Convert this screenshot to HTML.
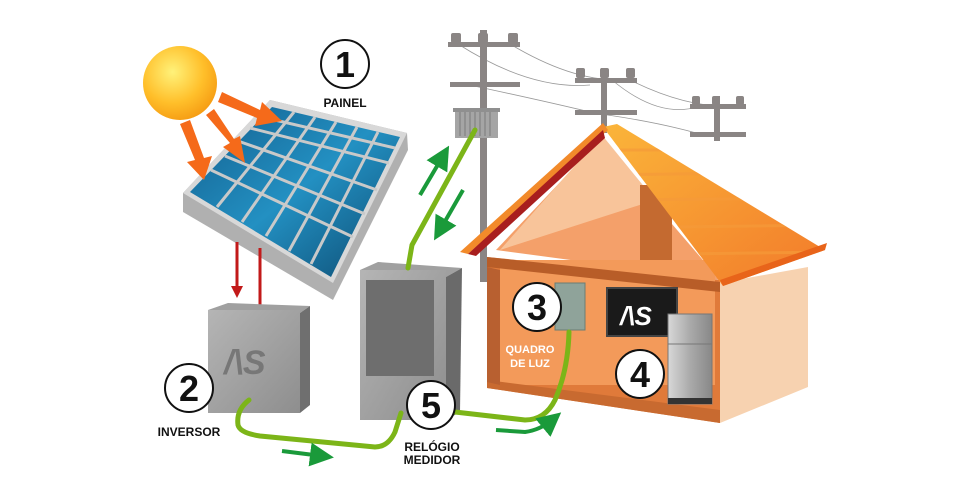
<!DOCTYPE html>
<html><head><meta charset="utf-8"><style>
html,body{margin:0;padding:0;background:#fff;}
svg{display:block;font-family:"Liberation Sans",Arial,sans-serif;}
</style></head><body>
<svg width="977" height="495" viewBox="0 0 977 495" xmlns="http://www.w3.org/2000/svg">
<defs>
<radialGradient id="sun" cx="0.4" cy="0.35" r="0.7"><stop offset="0" stop-color="#fff27a"/><stop offset="0.6" stop-color="#ffbf2a"/><stop offset="1" stop-color="#f59a12"/></radialGradient>
<linearGradient id="cell" x1="0" y1="0" x2="1" y2="1"><stop offset="0" stop-color="#135f8e"/><stop offset="0.5" stop-color="#2390c2"/><stop offset="1" stop-color="#0c4a70"/></linearGradient>
<linearGradient id="gray" x1="0" y1="0" x2="1" y2="1"><stop offset="0" stop-color="#b5b5b5"/><stop offset="1" stop-color="#8e8e8e"/></linearGradient>
<linearGradient id="roof" x1="0" y1="0" x2="1" y2="1"><stop offset="0" stop-color="#fbb53a"/><stop offset="1" stop-color="#f27a2a"/></linearGradient>
<linearGradient id="fr" x1="0" y1="0" x2="1" y2="0"><stop offset="0" stop-color="#d8d8d8"/><stop offset="0.5" stop-color="#aaa"/><stop offset="1" stop-color="#888"/></linearGradient>
<marker id="ga" markerWidth="6" markerHeight="6" refX="3" refY="3" orient="auto"><path d="M0,0 L6,3 L0,6z" fill="#1a9a3a"/></marker>
<clipPath id="rc"><polygon points="603,127 617,124 825,250 723,286"/></clipPath>
</defs>

<!-- wires -->
<g stroke="#999" stroke-width="0.8" fill="none">
<path d="M458,44 Q530,90 590,85"/><path d="M510,44 Q570,80 618,80"/><path d="M460,83 Q540,100 590,112"/>
<path d="M612,80 Q660,120 700,106"/><path d="M630,80 Q690,110 740,106"/><path d="M585,112 Q650,120 700,134"/>
</g>
<!-- poles -->
<g fill="#8a8584">
<rect x="480" y="30" width="7" height="252"/>
<rect x="448" y="42" width="72" height="5"/><rect x="450" y="82" width="70" height="5"/>
<rect x="451" y="33" width="10" height="10" rx="2"/><rect x="478" y="33" width="10" height="10" rx="2"/><rect x="508" y="33" width="10" height="10" rx="2"/>
<rect x="601" y="68" width="6" height="65"/>
<rect x="575" y="78" width="62" height="5"/><rect x="575" y="110" width="62" height="5"/>
<rect x="576" y="68" width="9" height="10" rx="2"/><rect x="600" y="68" width="9" height="10" rx="2"/><rect x="626" y="68" width="9" height="10" rx="2"/>
<rect x="714" y="96" width="6" height="45"/>
<rect x="690" y="104" width="56" height="5"/><rect x="690" y="132" width="56" height="5"/>
<rect x="692" y="96" width="8" height="9" rx="2"/><rect x="712" y="96" width="8" height="9" rx="2"/><rect x="736" y="96" width="8" height="9" rx="2"/>
</g>
<rect x="455" y="110" width="43" height="28" fill="#a5a5a5"/>
<g stroke="#7a7a7a" stroke-width="1"><path d="M460,112v24M465,112v24M470,112v24M475,112v24M480,112v24M485,112v24M490,112v24"/></g>
<rect x="453" y="108" width="47" height="4" fill="#8f8f8f"/>

<!-- sun -->
<circle cx="180" cy="83" r="37" fill="url(#sun)"/>
<!-- panel -->
<polygon points="183,193 270,100 407,133 408,150 333,300 183,212" fill="#b0b0b0"/>
<polygon points="183,193 270,100 407,133 333,283" fill="#d8d8d8"/>
<g>
<polygon points="190,192 272,107 400,137 331,277" fill="url(#cell)"/>
<g stroke="#c9c9c9" stroke-width="3">
<line x1="211" y1="170" x2="353" y2="237"/><line x1="225" y1="156" x2="365" y2="214"/><line x1="238" y1="141" x2="377" y2="190"/><line x1="250" y1="128" x2="389" y2="163"/><line x1="262" y1="117" x2="395" y2="148"/>
<line x1="294" y1="112" x2="217" y2="207"/><line x1="315" y1="117" x2="242" y2="222"/><line x1="336" y1="122" x2="266" y2="236"/><line x1="357" y1="127" x2="289" y2="251"/><line x1="378" y1="132" x2="311" y2="264"/>
</g>
</g>
<!-- sun rays -->
<g fill="#f56a1a">
<path d="M222,92 L260,110 L262,102 L282,121 L255,126 L257,118 L218,102z"/>
<path d="M206,115 L230,143 L223,147 L245,163 L240,136 L234,139 L214,109z"/>
<path d="M180,124 L195,160 L187,162 L204,180 L212,156 L204,158 L190,120z"/>
</g>
<!-- red lines -->
<g stroke="#c21a1a" stroke-width="3"><line x1="237" y1="242" x2="237" y2="288"/><line x1="260" y1="248" x2="260" y2="310"/></g>
<polygon points="231,286 243,286 237,298" fill="#c21a1a"/>

<!-- inverter -->
<polygon points="208,310 228,303 310,306 300,313" fill="#a0a0a0"/>
<polygon points="300,313 310,306 310,405 300,413" fill="#6f6f6f"/>
<rect x="208" y="310" width="92" height="103" fill="url(#gray)"/>
<text x="224" y="374" font-size="34" font-weight="bold" font-style="italic" fill="#777">/\S</text>

<!-- meter -->
<polygon points="360,270 378,262 462,268 446,277" fill="#a0a0a0"/>
<polygon points="446,277 462,268 460,412 446,420" fill="#6a6a6a"/>
<rect x="360" y="270" width="86" height="150" fill="url(#gray)"/>
<rect x="366" y="280" width="68" height="96" fill="#6e6e6e"/>

<!-- house -->
<polygon points="487,257 720,280 720,423 487,388" fill="#e07a3a"/>
<polygon points="720,283 808,267 808,387 720,423" fill="#f7d2b0"/>
<polygon points="496,250 600,140 720,280" fill="#f4a06a"/>
<polygon points="500,250 602,135 655,200" fill="#f8c49a"/>
<rect x="640" y="185" width="32" height="75" fill="#c46a30"/>
<rect x="500" y="260" width="215" height="125" fill="#f39a5a"/>
<polygon points="487,257 720,282 720,292 487,267" fill="#b85d28"/>
<polygon points="487,380 720,410 720,423 487,388" fill="#c86a30"/>
<polygon points="487,267 500,270 500,385 487,382" fill="#b86030"/>
<!-- roof -->
<polygon points="603,127 617,124 825,250 723,286" fill="url(#roof)"/>
<g stroke="#f59a3a" stroke-width="3" opacity="0.7" clip-path="url(#rc)"><line x1="600" y1="150" x2="830" y2="150"/><line x1="600" y1="175" x2="830" y2="172"/><line x1="600" y1="200" x2="830" y2="198"/><line x1="600" y1="228" x2="830" y2="225"/><line x1="600" y1="255" x2="830" y2="252"/></g>
<polygon points="723,286 825,250 827,243 720,280" fill="#e8641a"/>
<polygon points="460,252 603,123 608,130 468,254" fill="#f28a2a"/>
<polygon points="468,254 603,130 605,138 476,256" fill="#a81e1e"/>

<!-- quadro -->
<rect x="555" y="283" width="30" height="47" fill="#8fa39a" stroke="#6b7d74"/>
<!-- TV -->
<rect x="607" y="288" width="70" height="48" fill="#1a1a1a" stroke="#444" stroke-width="2"/>
<text x="620" y="325" font-size="26" font-weight="bold" font-style="italic" fill="#fff">/\S</text>
<!-- fridge -->
<rect x="668" y="314" width="44" height="90" fill="url(#fr)" stroke="#777"/>
<line x1="668" y1="344" x2="712" y2="344" stroke="#777"/>
<rect x="668" y="398" width="44" height="6" fill="#333"/>

<!-- cables -->
<g stroke="#7cb518" stroke-width="5" fill="none" stroke-linecap="round">
<path d="M249,400 Q236,410 238,425 Q240,433 260,436 L375,447 Q388,447 395,432 L401,413"/>
<path d="M455,412 L525,420 Q545,420 555,400 Q568,370 569,332"/>
<path d="M408,268 L412,245 L475,130"/>
</g>
<!-- green arrows -->
<g stroke="#1a9a3a" stroke-width="4" fill="none" marker-end="url(#ga)">
<line x1="282" y1="451" x2="322" y2="456"/>
<path d="M496,430 L525,432 Q540,430 552,420"/>
<line x1="420" y1="195" x2="443" y2="156"/>
<line x1="463" y1="190" x2="440" y2="230"/>
</g>

<!-- numbers -->
<g fill="#fff" stroke="#111" stroke-width="2">
<circle cx="345" cy="64" r="24"/><circle cx="189" cy="388" r="24"/><circle cx="537" cy="307" r="24"/><circle cx="640" cy="374" r="24"/><circle cx="431" cy="405" r="24"/>
</g>
<g font-weight="bold" font-size="36" text-anchor="middle" fill="#111">
<text x="345" y="77">1</text><text x="189" y="401">2</text><text x="537" y="320">3</text><text x="640" y="387">4</text><text x="431" y="418">5</text>
</g>
<g font-weight="bold" font-size="12" text-anchor="middle" fill="#111">
<text x="345" y="107">PAINEL</text>
<text x="189" y="436">INVERSOR</text>
<text x="432" y="451">RELÓGIO</text><text x="432" y="464">MEDIDOR</text>
</g>
<g font-weight="bold" font-size="11" text-anchor="middle" fill="#fff">
<text x="530" y="353">QUADRO</text><text x="530" y="367">DE LUZ</text>
</g>
</svg>
</body></html>
